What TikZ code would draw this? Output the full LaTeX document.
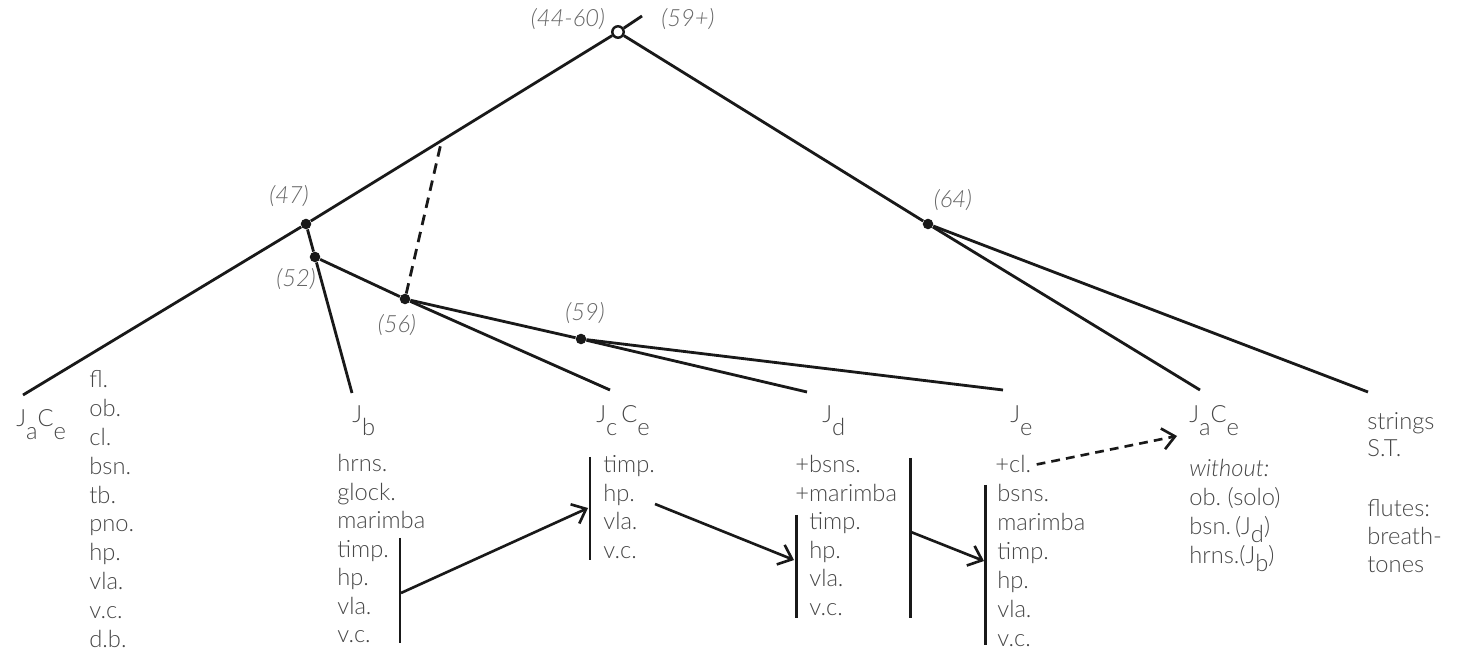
\documentclass[tikz,border=0pt]{standalone}
\usepackage{fontspec}
\setmainfont{Lato}[UprightFont=* Light, ItalicFont=* Light Italic]
\usetikzlibrary{arrows.meta}
\definecolor{inkgray}{HTML}{474747}
\definecolor{lblgray}{HTML}{666666}
\newcommand{\lowidx}[2][7pt]{\raisebox{-#1}{#2}}

\begin{document}
\begin{tikzpicture}[x=0.02cm, y=-0.02cm,
    branch/.style={line width=1.6pt, black!90},
    knot/.style={circle, fill=black!90, inner sep=0pt, minimum size=6pt},
    root/.style={circle, draw=black!90, fill=white, line width=1.4pt, inner sep=0pt, minimum size=6.5pt},
    date/.style={font=\fontsize{13.5}{16}\selectfont\itshape, text=lblgray, inner sep=0pt},
    txt/.style={font=\fontsize{13.5}{16}\selectfont, text=inkgray, inner sep=0pt, anchor=base west},
    bar/.style={line width=1.7pt, black!90},
    flow/.style={line width=1.5pt, black!90, -{Straight Barb[length=7pt, width=12pt]}},
]
    \useasboundingbox (0,0) rectangle (1458,651);

    % tree
    \node[root] (top) at (618,32) {};
    \coordinate (stub) at (642,16);
    \node[knot] (k47) at (306,224) {};
    \node[knot] (k52) at (315,257) {};
    \node[knot] (k56) at (405,299) {};
    \node[knot] (k59) at (581,339) {};
    \node[knot] (k64) at (928,224) {};
    \coordinate (mid) at (442,139);

    \coordinate (eA) at (23,395);
    \coordinate (eB) at (352,393);
    \coordinate (eC) at (610,390);
    \coordinate (eD) at (807,392);
    \coordinate (eE) at (1003,390);
    \coordinate (eF) at (1200,390);
    \coordinate (eG) at (1368,392);

    \draw[branch] (top) -- (stub);
    \draw[branch] (top) -- (k47) -- (eA);
    \draw[branch] (top) -- (k64) -- (eF);
    \draw[branch] (k64) -- (eG);
    \draw[branch] (k47) -- (k52) -- (eB);
    \draw[branch] (k52) -- (k56) -- (eC);
    \draw[branch] (k56) -- (k59) -- (eD);
    \draw[branch] (k59) -- (eE);
    \draw[branch, dashed, dash pattern=on 6pt off 4pt] (k56) -- (mid);

    % dates
    \node[date] (d4460) at (568,19) {(44-60)};
    \node[date] (d59p) at (688,19) {(59+)};
    \node[date] (d47) at (289,196) {(47)};
    \node[date] (d52) at (296,279) {(52)};
    \node[date] (d56) at (397,325) {(56)};
    \node[date] (d59) at (585,313) {(59)};
    \node[date] (d64) at (953,200) {(64)};

    % groups
    \node[txt] (gA) at (16,427) {J\lowidx{a}C\lowidx{e}};
    \node[txt] (gB) at (352,423) {J\lowidx{b}};
    \node[txt] (gC) at (596,423) {J\lowidx{c}\,C\lowidx{e}};
    \node[txt] (gD) at (822,423) {J\lowidx{d}};
    \node[txt] (gE) at (1010,423) {J\lowidx{e}};
    \node[txt] (gF) at (1189,423) {J\lowidx{a}C\lowidx{e}};

    % instruments
    \foreach \t [count=\i from 0] in {fl.,ob.,cl.,bsn.,tb.,pno.,hp.,vla.,v.c.,d.b.}
        \node[txt] (ia\i) at (89,{388+28.8*\i}) {\t};
    \foreach \t [count=\i from 0] in {hrns.,glock.,marimba,timp.,hp.,vla.,v.c.}
        \node[txt] (ib\i) at (337,{472+28.5*\i}) {\t};
    \foreach \t [count=\i from 0] in {timp.,hp.,vla.,v.c.}
        \node[txt] (ic\i) at (603,{473+28.5*\i}) {\t};
    \foreach \t [count=\i from 0] in {+bsns.,+marimba}
        \node[txt] (id\i) at (795,{473+28.5*\i}) {\t};
    \foreach \t [count=\i from 0] in {timp.,hp.,vla.,v.c.}
        \node[txt] (idd\i) at (809,{530+28.5*\i}) {\t};
    \node[txt] (ie0) at (995,473) {+cl.};
    \foreach \t [count=\i from 1] in {bsns.,marimba,timp.,hp.,vla.,v.c.}
        \node[txt] (ie\i) at (997,{473+29*\i}) {\t};
    \node[txt, font=\fontsize{13.5}{16}\selectfont\itshape] (if0) at (1189,477) {without:};
    \foreach \t [count=\i from 1] in {ob.\ (solo),bsn.\,(J\lowidx[4.5pt]{d}),hrns.(J\lowidx[4.5pt]{b})}
        \node[txt] (if\i) at (1189,{477+29*\i}) {\t};
    \node[txt] (ig0) at (1367,430) {strings};
    \node[txt] (ig1) at (1367,457) {S.T.};
    \foreach \t [count=\i from 0] in {flutes:,breath-,tones}
        \node[txt] (ih\i) at (1367,{517+28*\i}) {\t};

    % bars and transfers
    \coordinate (bB1) at (400,538); \coordinate (bB2) at (400,643);
    \coordinate (bC1) at (590,457); \coordinate (bC2) at (590,560);
    \coordinate (bD1) at (796,515); \coordinate (bD2) at (796,618);
    \coordinate (bX1) at (910,458); \coordinate (bX2) at (910,618);
    \coordinate (bE1) at (985,485); \coordinate (bE2) at (985,645);
    \draw[bar] (bB1) -- (bB2);
    \draw[bar] (bC1) -- (bC2);
    \draw[bar] (bD1) -- (bD2);
    \draw[bar] (bX1) -- (bX2);
    \draw[bar] (bE1) -- (bE2);

    \coordinate (fB) at (401,593);
    \coordinate (tC) at (588,508);
    \coordinate (fC) at (655,504);
    \coordinate (tD) at (794,560);
    \coordinate (fX) at (911,532);
    \coordinate (tE) at (984,561);
    \coordinate (tF) at (1177,436);
    \draw[flow] (fB) -- (tC);
    \draw[flow] (fC) -- (tD);
    \draw[flow] (fX) -- (tE);
    \draw[flow, dashed, dash pattern=on 5pt off 3.5pt] ([xshift=3pt]ie0.east) -- (tF);
\end{tikzpicture}
\end{document}
